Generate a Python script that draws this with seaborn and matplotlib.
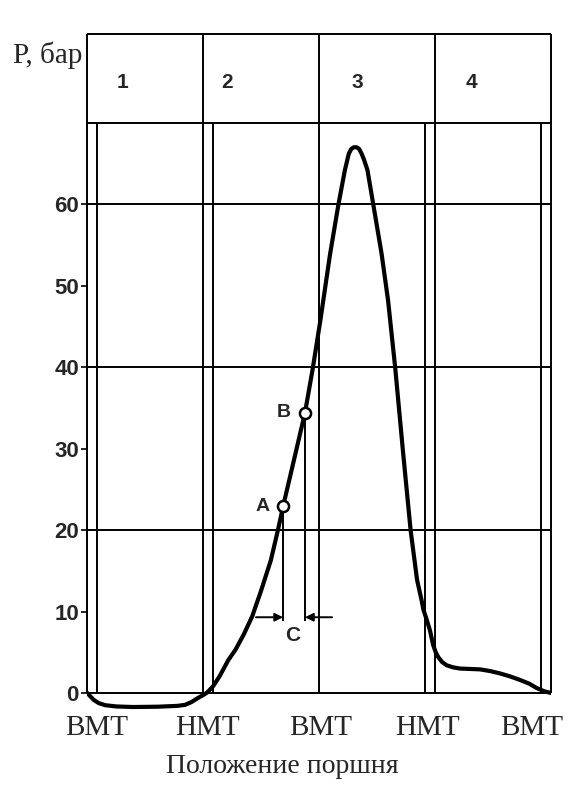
import matplotlib.pyplot as plt
import seaborn as sns

# crank angle (deg) and cylinder pressure (bar)
angle = [0, 4, 10, 18, 28, 45, 71, 110, 140, 152, 162, 172, 180, 186, 195,
         205, 219, 230, 243, 256, 270, 285, 296, 304, 320, 338, 350, 362,
         377, 390, 400, 406, 410, 414, 418, 422, 426, 430, 435, 444, 457,
         467, 478, 490, 502, 512, 519, 522, 527, 532, 537, 541, 545, 551,
         558, 568, 579, 595, 610, 625, 641, 656, 672, 686, 698, 710, 720]
pressure = [0, -0.35, -0.85, -1.25, -1.5, -1.65, -1.72, -1.68, -1.58, -1.45,
            -1.1, -0.6, -0.25, 0.05, 0.8, 2.0, 4.05, 5.3, 7.2, 9.4, 12.6,
            16.3, 20.0, 22.9, 28.3, 34.4, 39.8, 45.8, 53.9, 60.0, 64.2, 66.2,
            66.8, 67.0, 67.0, 66.8, 66.2, 65.4, 64.2, 60.0, 53.9, 48.2, 40.0,
            29.8, 20.0, 13.9, 11.4, 10.2, 9.0, 7.7, 5.9, 5.0, 4.4, 3.8, 3.4,
            3.15, 3.0, 2.95, 2.9, 2.7, 2.4, 2.05, 1.6, 1.15, 0.6, 0.2, 0.0]

# marked points A and B
point_names = ['A', 'B']
point_angle = [304, 338]
point_pressure = [22.9, 34.4]

# piston positions under the x axis
pos_angle = [15, 186, 363, 529, 690]
pos_labels = ['ВМТ', 'НМТ', 'ВМТ', 'НМТ', 'ВМТ']

# stroke numbers in the header strip
stroke_labels = ['1', '2', '3', '4']
stroke_angle = [55, 217, 420, 597]

sns.set_style('white')
plt.rcParams['font.family'] = ['Liberation Sans', 'DejaVu Sans']

fig = plt.figure(figsize=(5.71, 7.85), dpi=100)
ax = fig.add_axes([87.3 / 571, 1 - 715 / 785, 463.7 / 571, 681 / 785])
ax.set_xlim(0, 720)
ax.set_ylim(-2.7, 80.9)
for s in ax.spines.values():
    s.set_visible(False)

# grid / frame
lw = 1.4
ax.hlines([0, 20, 40, 60, 70], 0, 720, color='black', lw=lw)
ax.hlines([80.9], 0, 720, color='black', lw=lw, clip_on=False)
ax.vlines([0, 180, 360, 540, 720], 0, 80.9, color='black', lw=lw, clip_on=False)
ax.vlines([15, 195, 525, 705], 0, 70, color='black', lw=lw)

sns.lineplot(x=angle, y=pressure, color='black', linewidth=3.0, ax=ax,
             sort=False, estimator=None)
ax.lines[-1].set_solid_joinstyle('round')
ax.lines[-1].set_solid_capstyle('round')

# A, B construction
ax.vlines(point_angle, 8.8, point_pressure, color='black', lw=lw)
ax.plot(point_angle, point_pressure, 'o', ms=8, mfc='white', mec='black',
        mew=1.8, zorder=5)
for name, a, p in zip(point_names, point_angle, point_pressure):
    ax.annotate(name, (a, p), xytext=(-15, 0), textcoords='offset points',
                ha='center', va='center', fontsize=14, fontweight='bold')
ap = dict(arrowstyle='-|>', color='black', lw=1.4, mutation_scale=12,
          shrinkA=0, shrinkB=0)
ax.annotate('', xy=(point_angle[0], 9.3), xytext=(point_angle[0] - 42, 9.3),
            arrowprops=ap)
ax.annotate('', xy=(point_angle[1], 9.3), xytext=(point_angle[1] + 42, 9.3),
            arrowprops=ap)
ax.text(319.6, 7.0, 'C', ha='center', va='center', fontsize=15,
        fontweight='bold')

for lab, a in zip(stroke_labels, stroke_angle):
    ax.text(a, 74.9, lab, ha='center', va='center', fontsize=15,
            fontweight='bold')

# axes text
ax.set_yticks(range(0, 70, 10))
ax.tick_params(axis='y', direction='out', length=4, width=1.4, pad=2,
               labelsize=16, left=True)
for t in ax.get_yticklabels():
    t.set_fontweight('bold')

ax.set_xticks(pos_angle, pos_labels)
ax.tick_params(axis='x', length=0, pad=0)
for t in ax.get_xticklabels():
    t.set_fontfamily('Liberation Serif')
    t.set_fontsize(21)

ax.set_xlabel('Положение поршня', fontfamily='Liberation Serif', fontsize=20,
              va='center')
ax.xaxis.set_label_coords(0.42, -0.075)
ax.set_ylabel('Р, бар', fontfamily='Liberation Serif', fontsize=21,
              rotation=0, ha='right', va='center')
ax.yaxis.set_label_coords(-0.011, 0.969)

plt.savefig('out.png', dpi=100)
plt.close()
